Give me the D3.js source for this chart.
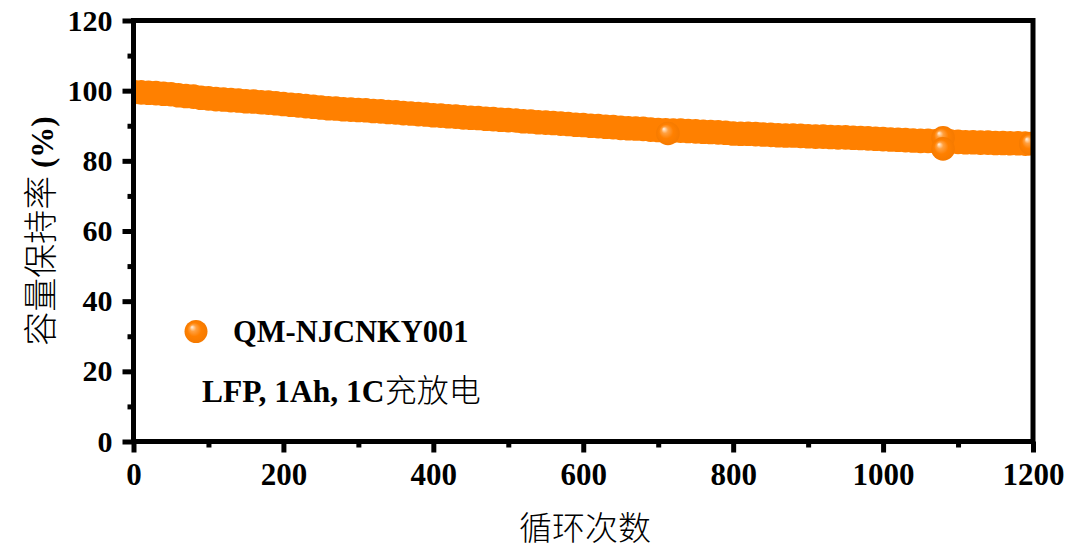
<!DOCTYPE html>
<html>
<head>
<meta charset="utf-8">
<script src="https://cdn.jsdelivr.net/npm/d3@7/dist/d3.min.js"></script>
<style>
  html, body { margin: 0; padding: 0; background: #fff; }
  svg { display: block; }
</style>
</head>
<body>
<svg id="chart" width="1080" height="553"></svg>
<script>
// ---- data ----
const cycles = [
  0,10,20,30,40,50,60,70,80,90,
  100,110,120,130,140,150,160,170,180,190,
  200,210,220,230,240,250,260,270,280,290,
  300,310,320,330,340,350,360,370,380,390,
  400,410,420,430,440,450,460,470,480,490,
  500,510,520,530,540,550,560,570,580,590,
  600,610,620,630,640,650,660,670,680,690,
  700,710,720,730,740,750,760,770,780,790,
  800,810,820,830,840,850,860,870,880,890,
  900,910,920,930,940,950,960,970,980,990,
  1000,1010,1020,1030,1040,1050,1060,1070,1080,1090,
  1100,1110,1120,1130,1140,1150,1160,1170,1180,1190
];
const retention = [
  99.6,99.5,99.4,99.3,99.1,99.0,98.7,98.5,98.3,98.0,
  97.8,97.6,97.5,97.3,97.2,97.0,96.9,96.7,96.6,96.4,
  96.2,96.0,95.8,95.6,95.4,95.2,95.0,94.9,94.7,94.6,
  94.5,94.4,94.2,94.1,93.9,93.8,93.6,93.5,93.3,93.2,
  93.0,92.9,92.7,92.6,92.4,92.3,92.2,92.0,91.9,91.7,
  91.6,91.5,91.3,91.2,91.0,90.9,90.8,90.6,90.5,90.3,
  90.2,90.0,89.9,89.7,89.6,89.4,89.3,89.2,89.1,88.9,
  88.8,88.7,88.6,88.6,88.5,88.4,88.3,88.2,88.1,88.0,
  87.8,87.7,87.7,87.6,87.5,87.4,87.3,87.2,87.2,87.1,
  87.0,86.9,86.9,86.8,86.7,86.7,86.6,86.5,86.4,86.3,
  86.2,86.1,86.0,85.9,85.8,85.7,85.7,85.6,85.5,85.5,
  85.4,85.3,85.3,85.2,85.2,85.1,85.1,85.0,85.0,84.9
];
// isolated points drawn on top (visible highlights)
const extraCycles = [713, 1080, 1080, 1197];
const extraRetention = [87.8, 86.6, 83.4, 84.9];

const xTicks = [0, 200, 400, 600, 800, 1000, 1200];
const xMinorTicks = [100, 300, 500, 700, 900, 1100];
const yTicks = [0, 20, 40, 60, 80, 100, 120];
const yMinorTicks = [10, 30, 50, 70, 90, 110];

const seriesName = "QM-NJCNKY001";
const noteLatin = "LFP, 1Ah, 1C";
const noteCJK = "充放电";
const xTitle = "循环次数";
const yTitleCJK = "容量保持率";
const yTitleLatin = " (%)";

// ---- drawing ----
const svg = d3.select("#chart");
const x = d3.scaleLinear().domain([0, 1200]).range([133.5, 1033]);
const y = d3.scaleLinear().domain([0, 120]).range([441.5, 20.5]);

const orange = "#FF8000";
const defs = svg.append("defs");
const grad = defs.append("radialGradient").attr("id", "ball")
  .attr("cx", "50%").attr("cy", "50%").attr("r", "50%")
  .attr("fx", "32%").attr("fy", "30%");
grad.append("stop").attr("offset", "0%").attr("stop-color", "#FFF4E6");
grad.append("stop").attr("offset", "28%").attr("stop-color", "#FFA040");
grad.append("stop").attr("offset", "60%").attr("stop-color", orange);
grad.append("stop").attr("offset", "100%").attr("stop-color", "#F57A00");

defs.append("clipPath").attr("id", "plotClip")
  .append("rect")
  .attr("x", x(0)).attr("y", y(120))
  .attr("width", x(1200) - x(0)).attr("height", y(0) - y(120));

const R = 12.3;
const pts = svg.append("g").attr("clip-path", "url(#plotClip)");
const main = cycles.map((c, i) => ({c, v: retention[i]}));
pts.selectAll("circle.m").data(main).enter().append("circle")
  .attr("class", "m")
  .attr("cx", d => x(d.c)).attr("cy", d => y(d.v)).attr("r", R)
  .attr("fill", orange);
const extra = extraCycles.map((c, i) => ({c, v: extraRetention[i]}));
pts.selectAll("circle.e").data(extra).enter().append("circle")
  .attr("class", "e")
  .attr("cx", d => x(d.c)).attr("cy", d => y(d.v)).attr("r", 11.8)
  .attr("fill", "url(#ball)");

// frame
svg.append("rect")
  .attr("x", x(0)).attr("y", y(120))
  .attr("width", x(1200) - x(0)).attr("height", y(0) - y(120))
  .attr("fill", "none").attr("stroke", "#000").attr("stroke-width", 5);

const numFont = "'Liberation Serif', 'Times New Roman', serif";
const cjkFont = "'Noto Sans CJK SC', 'Noto Sans CJK JP', sans-serif";

function styleAxis(g, size) {
  g.select(".domain").remove();
  g.selectAll(".tick line").attr("stroke", "#000").attr("stroke-width", 5);
  g.selectAll(".tick text")
    .attr("fill", "#000")
    .style("font-family", numFont)
    .style("font-weight", "bold")
    .style("font-size", (size || 30) + "px");
}

// x axis
svg.append("g").attr("transform", `translate(0,${y(0)})`)
  .call(d3.axisBottom(x).tickValues(xMinorTicks).tickSize(6).tickFormat(""))
  .call(styleAxis);
svg.append("g").attr("transform", `translate(0,${y(0)})`)
  .call(d3.axisBottom(x).tickValues(xTicks).tickSize(11).tickPadding(10).tickFormat(d3.format("d")))
  .call(g => styleAxis(g, 31));

// y axis
svg.append("g").attr("transform", `translate(${x(0)},0)`)
  .call(d3.axisLeft(y).tickValues(yMinorTicks).tickSize(6).tickFormat(""))
  .call(styleAxis);
svg.append("g").attr("transform", `translate(${x(0)},0)`)
  .call(d3.axisLeft(y).tickValues(yTicks).tickSize(11).tickPadding(10).tickFormat(d3.format("d")))
  .call(g => styleAxis(g, 30));

// axis titles
svg.append("text")
  .attr("x", 585).attr("y", 540)
  .attr("text-anchor", "middle")
  .style("font-family", cjkFont).style("font-weight", 300).style("font-size", "33px")
  .attr("fill", "#000")
  .text(xTitle);

const yt = svg.append("text")
  .attr("transform", "translate(53,231) rotate(-90)")
  .attr("text-anchor", "middle")
  .attr("fill", "#000");
yt.append("tspan")
  .style("font-family", cjkFont).style("font-weight", 300).style("font-size", "34px")
  .text(yTitleCJK);
yt.append("tspan")
  .style("font-family", numFont).style("font-weight", "bold").style("font-size", "31px")
  .text(yTitleLatin);

// legend
svg.append("circle").attr("cx", 196).attr("cy", 331.5).attr("r", 11.5)
  .attr("fill", "url(#ball)");
svg.append("text").attr("x", 233).attr("y", 342)
  .style("font-family", numFont).style("font-weight", "bold").style("font-size", "30.5px")
  .attr("fill", "#000").text(seriesName);

const note = svg.append("text").attr("x", 202).attr("y", 402).attr("fill", "#000");
note.append("tspan")
  .style("font-family", numFont).style("font-weight", "bold").style("font-size", "31.5px")
  .text(noteLatin);
note.append("tspan")
  .style("font-family", cjkFont).style("font-weight", 300).style("font-size", "32px")
  .text(noteCJK);
</script>
</body>
</html>
